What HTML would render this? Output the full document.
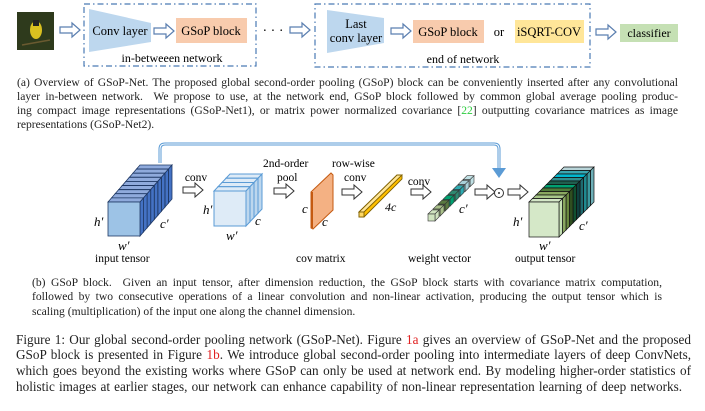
<!DOCTYPE html>
<html><head><meta charset="utf-8"><style>
html,body{margin:0;padding:0;background:#fff;width:705px;height:411px;overflow:hidden;position:relative;font-family:"Liberation Serif",serif;color:#222}
svg{position:absolute;left:0;top:0}
.ln{position:absolute;white-space:nowrap;text-align:justify;text-align-last:justify}
.a{font-size:11.6px;left:17px;width:661px}
.b{font-size:11.6px;left:32px;width:630px}
.b3{text-align-last:left}
.f{font-size:13.2px;left:16px;width:675px}
.f4{width:666px}
.g{color:#2ecc40}.r{color:#e02020}
</style></head><body>
<svg id="sv" width="705" height="411" viewBox="0 0 705 411" font-family="Liberation Serif, serif">
<defs>
<g id="ar"><polygon points="0,-3 12,-3 12,-7 20,0 12,7 12,3 0,3" fill="#fff" stroke="#333" stroke-width="1"/></g>
<g id="arb"><polygon points="0,-3 12,-3 12,-7 20,0 12,7 12,3 0,3" fill="#fff" stroke="#5b7fb0" stroke-width="1.2"/></g>
</defs>
<rect x="17" y="12" width="37" height="38" fill="#2e3a1c"/>
<ellipse cx="36" cy="30" rx="6" ry="9" fill="#d9c020"/>
<rect x="33" y="20" width="6" height="6" fill="#222"/>
<line x1="22" y1="45" x2="50" y2="40" stroke="#6a5a30" stroke-width="1.5"/>
<use href="#arb" x="60" y="30"/>
<rect x="84" y="4" width="172" height="62" fill="none" stroke="#4a7ab5" stroke-width="1.2" stroke-dasharray="6,3,1.5,3"/>
<polygon points="89,9 151,23 151,42 89,52" fill="#bdd7ee"/>
<text x="120" y="35" font-size="12.5" text-anchor="middle">Conv layer</text>
<use href="#arb" x="154" y="31"/>
<rect x="176" y="18" width="71" height="25" fill="#f8cbad"/>
<text x="211" y="35" font-size="12.5" text-anchor="middle">GSoP block</text>
<text x="172" y="62" font-size="12" text-anchor="middle">in-betweeen network</text>
<text x="273" y="35" font-size="14" text-anchor="middle">· · ·</text>
<use href="#arb" x="290" y="30"/>
<rect x="315" y="4" width="275" height="63" fill="none" stroke="#4a7ab5" stroke-width="1.2" stroke-dasharray="6,3,1.5,3"/>
<polygon points="327,10 384,18 384,43 327,53" fill="#bdd7ee"/>
<text x="356" y="28" font-size="12.5" text-anchor="middle">Last</text>
<text x="356" y="42" font-size="12.5" text-anchor="middle">conv layer</text>
<use href="#arb" x="391" y="31"/>
<rect x="413" y="20" width="71" height="23" fill="#f8cbad"/>
<text x="448" y="36" font-size="12.5" text-anchor="middle">GSoP block</text>
<text x="499" y="36" font-size="12.5" text-anchor="middle">or</text>
<rect x="515" y="20" width="69" height="23" fill="#ffe699"/>
<text x="549" y="36" font-size="12.5" text-anchor="middle">iSQRT-COV</text>
<text x="463" y="63" font-size="12" text-anchor="middle">end of network</text>
<use href="#arb" x="596" y="32"/>
<rect x="620" y="24" width="58" height="18" fill="#c5e0b4"/>
<text x="649" y="37" font-size="12" text-anchor="middle">classifier</text>

<path d="M160,163 V149 Q160,144 165,144 H494 Q499,144 499,149 V170" fill="none" stroke="#5b9bd5" stroke-width="3"/>
<path d="M160,163 V149 Q160,144 165,144 H494 Q499,144 499,149 V170" fill="none" stroke="#fff" stroke-width="1"/>
<polygon points="492,168 506,168 499,178" fill="#5b9bd5"/>

<g id="shapes"></g>

<text font-size="13" font-style="italic"><tspan x="94" y="226">h′</tspan><tspan x="118" y="250">w′</tspan><tspan x="160" y="228">c′</tspan></text>
<text x="95" y="262" font-size="11.5">input tensor</text>

<use href="#ar" x="183" y="190"/>
<text x="196" y="181" font-size="11.5" text-anchor="middle">conv</text>
<text font-size="13" font-style="italic"><tspan x="203" y="214">h′</tspan><tspan x="226" y="240">w′</tspan><tspan x="255" y="225">c</tspan></text>

<use href="#ar" x="274" y="191"/>
<text x="263" y="167" font-size="11.5">2nd-order</text>
<text x="277" y="181" font-size="11.5">pool</text>

<polygon points="311,192 331,173 333,175 333,210 313,229 311,228" fill="#f4b183" stroke="#c55a11" stroke-width="1"/>
<line x1="312" y1="192" x2="312" y2="228" stroke="#c55a11" stroke-width="2"/>
<text font-size="13" font-style="italic"><tspan x="302" y="213">c</tspan><tspan x="322" y="226">c</tspan></text>
<text x="296" y="262" font-size="11.5">cov matrix</text>

<use href="#ar" x="342" y="192"/>
<text x="332" y="167" font-size="11.5">row-wise</text>
<text x="344" y="181" font-size="11.5">conv</text>

<polygon points="359,212 397,175 402,175 402,179 364,217 359,217" fill="#ffc000" stroke="#7f6000" stroke-width="0.9"/>
<polygon points="359,212 397,175 402,175 364,212" fill="#ffe699" stroke="#7f6000" stroke-width="0.9"/>
<rect x="359" y="212" width="5" height="5" fill="#ffd966" stroke="#7f6000" stroke-width="0.9"/>
<text x="385" y="211" font-size="12" font-style="italic">4c</text>

<use href="#ar" x="411" y="192"/>
<text x="419" y="185" font-size="11.5" text-anchor="middle">conv</text>
<text x="459" y="213" font-size="13" font-style="italic">c′</text>
<text x="408" y="262" font-size="11.5">weight vector</text>

<use href="#ar" x="475" y="192"/>
<circle cx="499" cy="193" r="4.5" fill="#fff" stroke="#333" stroke-width="1"/>
<circle cx="499" cy="193" r="1" fill="#333"/>
<use href="#ar" x="508" y="192"/>

<text font-size="13" font-style="italic"><tspan x="513" y="226">h′</tspan><tspan x="539" y="250">w′</tspan><tspan x="579" y="230">c′</tspan></text>
<text x="515" y="262" font-size="11.5">output tensor</text>
</svg>
<script>
(function(){
var g=document.getElementById('shapes');var NS='http://www.w3.org/2000/svg';
function el(t,a){var e=document.createElementNS(NS,t);for(var k in a)e.setAttribute(k,a[k]);g.appendChild(e);}
function slabs(x,y,w,h,n,TX,TY,cols,stroke,sw){
 var dx=TX/n,dy=TY/n;
 for(var i=n-1;i>=0;i--){
  var ox=x+i*dx,oy=y+i*dy,c=cols[i];
  el('polygon',{points:[ox,oy,ox+w,oy,ox+w+dx,oy+dy,ox+dx,oy+dy].join(','),fill:c[1],stroke:stroke,'stroke-width':sw});
  el('polygon',{points:[ox+w,oy,ox+w+dx,oy+dy,ox+w+dx,oy+h+dy,ox+w,oy+h].join(','),fill:c[2],stroke:stroke,'stroke-width':sw});
  el('rect',{x:ox,y:oy,width:w,height:h,fill:c[0],stroke:stroke,'stroke-width':sw});
 }
}
var a=[];for(var i=0;i<9;i++)a.push(['#9dc3e6','#8faadc','#4472c4']);
slabs(108,202,32,34,9,32,-37,a,'#1f3864',0.8);
var b=[];for(var i=0;i<4;i++)b.push(['#deebf7','#deebf7','#bdd7ee']);
slabs(214,191,32,35,4,16,-17,b,'#5b9bd5',1);
var oc=['#d5e8c8','#a9c88a','#8aa860','#4f7a3a','#00a070','#1f5f4f','#2e9090','#00b8d0','#3aa6b0','#b8d4d8'];
var od=['#c5e0b4','#8aa860','#6a8a40','#2f4f20','#105030','#0f3f3f','#1f6b70','#208a90','#3a9aa0','#6fb0b8'];
var o=[];for(var i=0;i<10;i++)o.push([oc[i],oc[i],od[i]]);
slabs(529,202,30,35,10,35,-35,o,'#111',0.7);
var wc=['#d0e4c0','#a9c08a','#5a7a40','#00a070','#2e8870','#2eaab0','#a9d0d8','#c0e0e4'];
for(var i=7;i>=0;i--){var ox=428+i*5,oy=214-i*4.9;
 el('polygon',{points:[ox,oy,ox+7,oy,ox+11,oy-4,ox+4,oy-4].join(','),fill:wc[i],stroke:'#333','stroke-width':0.6});
 el('polygon',{points:[ox+7,oy,ox+11,oy-4,ox+11,oy+3,ox+7,oy+7].join(','),fill:wc[i],stroke:'#333','stroke-width':0.6});
 el('rect',{x:ox,y:oy,width:7,height:7,fill:wc[i],stroke:'#333','stroke-width':0.6});}
})();
</script>

<div class="ln a" style="top:76px">(a) Overview of GSoP-Net. The proposed global second-order pooling (GSoP) block can be conveniently inserted after any convolutional</div>
<div class="ln a" style="top:90px">layer in-between network. &nbsp;We propose to use, at the network end, GSoP block followed by common global average pooling produc-</div>
<div class="ln a" style="top:104px">ing compact image representations (GSoP-Net1), or matrix power normalized covariance [<span class="g">22</span>] outputting covariance matrices as image</div>
<div class="ln a" style="top:118px;text-align-last:left">representations (GSoP-Net2).</div>

<div class="ln b" style="top:276px">(b) GSoP block. &nbsp;Given an input tensor, after dimension reduction, the GSoP block starts with covariance matrix computation,</div>
<div class="ln b" style="top:290px">followed by two consecutive operations of a linear convolution and non-linear activation, producing the output tensor which is</div>
<div class="ln b b3" style="top:305px">scaling (multiplication) of the input one along the channel dimension.</div>

<div class="ln f" style="top:332px">Figure 1: Our global second-order pooling network (GSoP-Net). Figure <span class="r">1a</span> gives an overview of GSoP-Net and the proposed</div>
<div class="ln f" style="top:347px">GSoP block is presented in Figure <span class="r">1b</span>. We introduce global second-order pooling into intermediate layers of deep ConvNets,</div>
<div class="ln f" style="top:363px">which goes beyond the existing works where GSoP can only be used at network end. By modeling higher-order statistics of</div>
<div class="ln f f4" style="top:379px">holistic images at earlier stages, our network can enhance capability of non-linear representation learning of deep networks.</div>
</body></html>
